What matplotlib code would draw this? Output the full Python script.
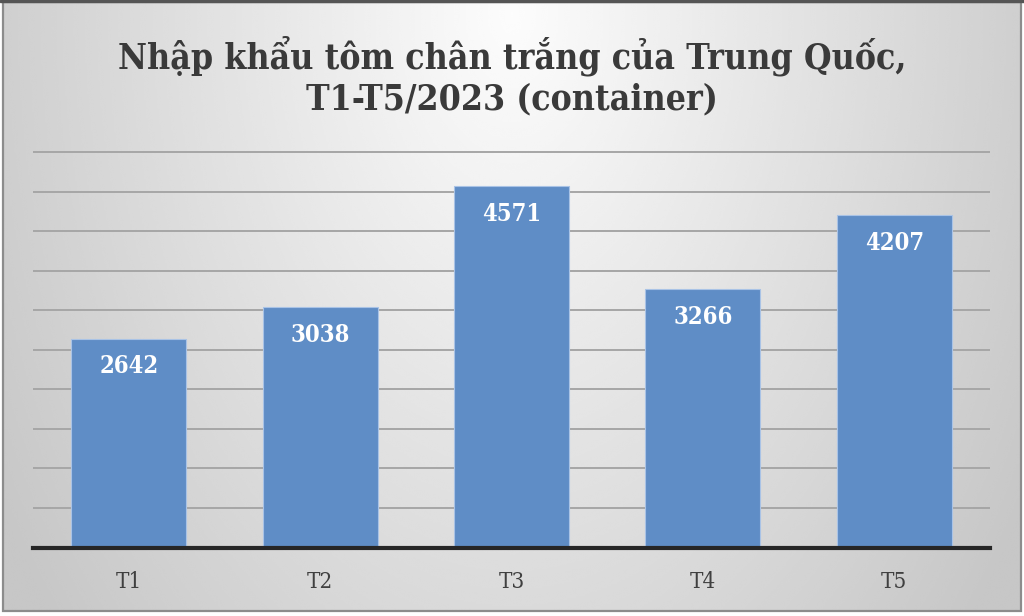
import numpy as np
import matplotlib
matplotlib.use("Agg")
import matplotlib.pyplot as plt
from matplotlib.patches import Rectangle

months = ["T1", "T2", "T3", "T4", "T5"]
containers = [2642, 3038, 4571, 3266, 4207]
title = "Nhập khẩu tôm chân trắng của Trung Quốc,\nT1-T5/2023 (container)"

W, H, DPI = 1024, 616, 100
fig = plt.figure(figsize=(W / DPI, H / DPI), dpi=DPI)
fig.patch.set_facecolor("white")

# radial grey backdrop, brightest near the top centre
bg = fig.add_axes([0, 0, 1, 1], zorder=0)
yy, xx = np.mgrid[0:1:300j, 0:1:500j]
r = np.sqrt(((xx - 0.5) / 0.62) ** 2 + ((yy - 0.02) / 1.6) ** 2)
shade = np.clip(0.99 - 0.22 * r, 0.78, 0.99)
bg.imshow(shade, cmap="gray", vmin=0, vmax=1, extent=[0.003, 0.997, 0.008, 0.997],
          origin="upper", aspect="auto", interpolation="bicubic")
bg.add_patch(Rectangle((0.003, 0.008), 0.994, 0.989, fill=False,
                       edgecolor="#8c8c8c", lw=1.6))
bg.add_patch(Rectangle((0, 0.996), 1, 0.004, color="#555555"))
bg.set_xlim(0, 1)
bg.set_ylim(0, 1)
bg.axis("off")

ymax = 5050
left, right = 33 / W, 990 / W
bottom = (H - 547.5) / H
top = (H - 547.5 + 395.5 * ymax / 5000) / H
ax = fig.add_axes([left, bottom, right - left, top - bottom], zorder=1)
ax.patch.set_alpha(0)

serif = dict(family="DejaVu Serif", fontstretch="condensed")

x = np.arange(len(months))
ax.bar(x, containers, width=0.6, color="#5f8dc6",
       edgecolor="#a9c3e6", linewidth=0.8, zorder=2)
for xi, v in zip(x, containers):
    ax.annotate(f"{v}", (xi, v), xytext=(0, -20), textcoords="offset points",
                ha="center", va="center", color="white", fontsize=17,
                fontweight="bold", zorder=3, **serif)

ax.set_xlim(-0.5, len(months) - 0.5)
ax.set_ylim(0, ymax)
ax.set_yticks(np.arange(500, 5001, 500))
ax.yaxis.grid(True, color="#a6a6a6", lw=1.4, zorder=0)
ax.set_axisbelow(True)
ax.tick_params(axis="y", left=False, labelleft=False)
ax.tick_params(axis="x", length=0, pad=17)
ax.set_xticks(x)
ax.set_xticklabels(months, fontsize=16, color="#404040", **serif)
for s in ["top", "left", "right"]:
    ax.spines[s].set_visible(False)
ax.spines["bottom"].set_color("#262626")
ax.spines["bottom"].set_linewidth(3)
ax.spines["bottom"].set_zorder(4)

fig.text(0.5, 1 - 76 / H, title, ha="center", va="center", fontsize=25.5,
         fontweight="bold", color="#3a3a3a", linespacing=1.27, **serif)

fig.savefig("out.png", dpi=DPI)
